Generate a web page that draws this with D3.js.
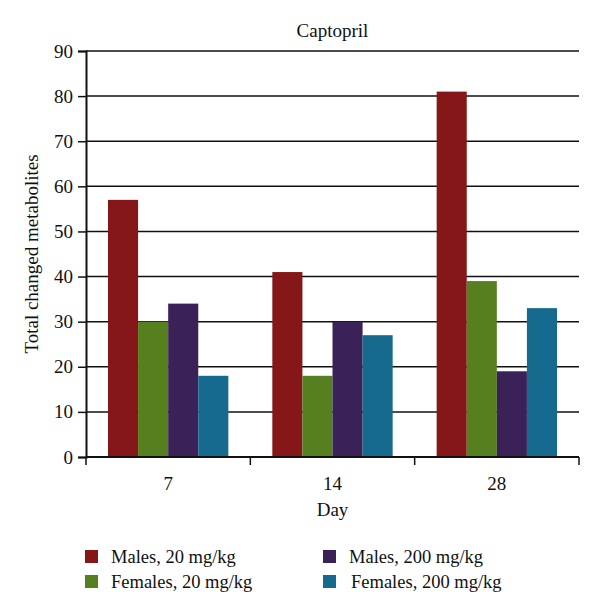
<!DOCTYPE html>
<html>
<head>
<meta charset="utf-8">
<script src="https://cdn.jsdelivr.net/npm/d3@7"></script>
<style>
  body { margin: 0; background: #fff; }
  text { font-family: "Liberation Serif", "DejaVu Serif", serif; fill: #111; }
</style>
</head>
<body>
<div id="chart"></div>
<script>
var days = ["7", "14", "28"];
var seriesNames = ["Males, 20 mg/kg", "Females, 20 mg/kg", "Males, 200 mg/kg", "Females, 200 mg/kg"];
var males20 = [57, 41, 81];
var females20 = [30, 18, 39];
var males200 = [34, 30, 19];
var females200 = [18, 27, 33];
var yTicks = [0, 10, 20, 30, 40, 50, 60, 70, 80, 90];
var colors = ["#861718", "#56801f", "#3a2259", "#166a8e"];

var seriesValues = [males20, females20, males200, females200];

var width = 600, height = 616;
var mLeft = 86, mRight = 579, mTop = 51, mBottom = 457;

var svg = d3.select("#chart").append("svg")
  .attr("width", width)
  .attr("height", height);

var x = d3.scaleBand()
  .domain(days)
  .range([mLeft, mRight])
  .padding(0);

var xInner = d3.scaleBand()
  .domain(seriesNames)
  .range([22, x.bandwidth() - 22])
  .padding(0);

var y = d3.scaleLinear()
  .domain([0, 90])
  .range([mBottom, mTop]);

// gridlines
svg.append("g")
  .selectAll("line")
  .data(yTicks.filter(function(d) { return d > 0; }))
  .enter().append("line")
  .attr("x1", mLeft)
  .attr("x2", mRight)
  .attr("y1", function(d) { return y(d); })
  .attr("y2", function(d) { return y(d); })
  .attr("stroke", "#111")
  .attr("stroke-width", 1.5);

// bars
var groups = svg.append("g")
  .selectAll("g")
  .data(days)
  .enter().append("g")
  .attr("transform", function(d) { return "translate(" + x(d) + ",0)"; });

groups.selectAll("rect")
  .data(function(d, i) {
    return seriesNames.map(function(s, j) { return {name: s, value: seriesValues[j][i], j: j}; });
  })
  .enter().append("rect")
  .attr("x", function(d) { return xInner(d.name); })
  .attr("width", xInner.bandwidth())
  .attr("y", function(d) { return y(d.value); })
  .attr("height", function(d) { return mBottom - y(d.value); })
  .attr("fill", function(d) { return colors[d.j]; });

// y axis
var yAxis = svg.append("g")
  .attr("transform", "translate(" + mLeft + ",0)")
  .call(d3.axisLeft(y).tickValues(yTicks).tickSize(8).tickPadding(5));
yAxis.select(".domain").attr("stroke", "#111").attr("stroke-width", 2);
yAxis.selectAll(".tick line").attr("stroke", "#111").attr("stroke-width", 1.5);
yAxis.selectAll(".tick text")
  .style("font-size", "19px")
  .style("font-family", "'Liberation Serif', serif")
  .attr("fill", "#111");

// x axis: ticks at band edges
var xAxis = svg.append("g")
  .attr("transform", "translate(0," + mBottom + ")");
xAxis.append("line")
  .attr("x1", mLeft).attr("x2", mRight)
  .attr("stroke", "#111").attr("stroke-width", 2);
xAxis.selectAll(".edge")
  .data(days.map(function(d) { return x(d); }).concat([mRight]))
  .enter().append("line")
  .attr("class", "edge")
  .attr("x1", function(d) { return d; })
  .attr("x2", function(d) { return d; })
  .attr("y1", 0).attr("y2", 8)
  .attr("stroke", "#111").attr("stroke-width", 1.5);
xAxis.selectAll("text")
  .data(days)
  .enter().append("text")
  .attr("x", function(d) { return x(d) + x.bandwidth() / 2; })
  .attr("y", 33)
  .attr("text-anchor", "middle")
  .style("font-size", "19px")
  .text(function(d) { return d; });

// titles
svg.append("text")
  .attr("x", (mLeft + mRight) / 2)
  .attr("y", 37)
  .attr("text-anchor", "middle")
  .style("font-size", "19px")
  .text("Captopril");

svg.append("text")
  .attr("x", (mLeft + mRight) / 2)
  .attr("y", 516)
  .attr("text-anchor", "middle")
  .style("font-size", "19px")
  .text("Day");

svg.append("text")
  .attr("transform", "translate(38," + ((mTop + mBottom) / 2) + ") rotate(-90)")
  .attr("text-anchor", "middle")
  .style("font-size", "19px")
  .text("Total changed metabolites");

// legend
var legendPos = [[85, 550], [85, 575], [323, 550], [323, 575]];
var legend = svg.append("g")
  .selectAll("g")
  .data(seriesNames)
  .enter().append("g")
  .attr("transform", function(d, i) { return "translate(" + legendPos[i][0] + "," + legendPos[i][1] + ")"; });
legend.append("rect")
  .attr("width", 13).attr("height", 13)
  .attr("fill", function(d, i) { return colors[i]; });
legend.append("text")
  .attr("x", function(d, i) { return i === 3 ? 28 : 26; })
  .attr("y", 13)
  .style("font-size", "18.5px")
  .text(function(d) { return d; });
</script>
</body>
</html>
